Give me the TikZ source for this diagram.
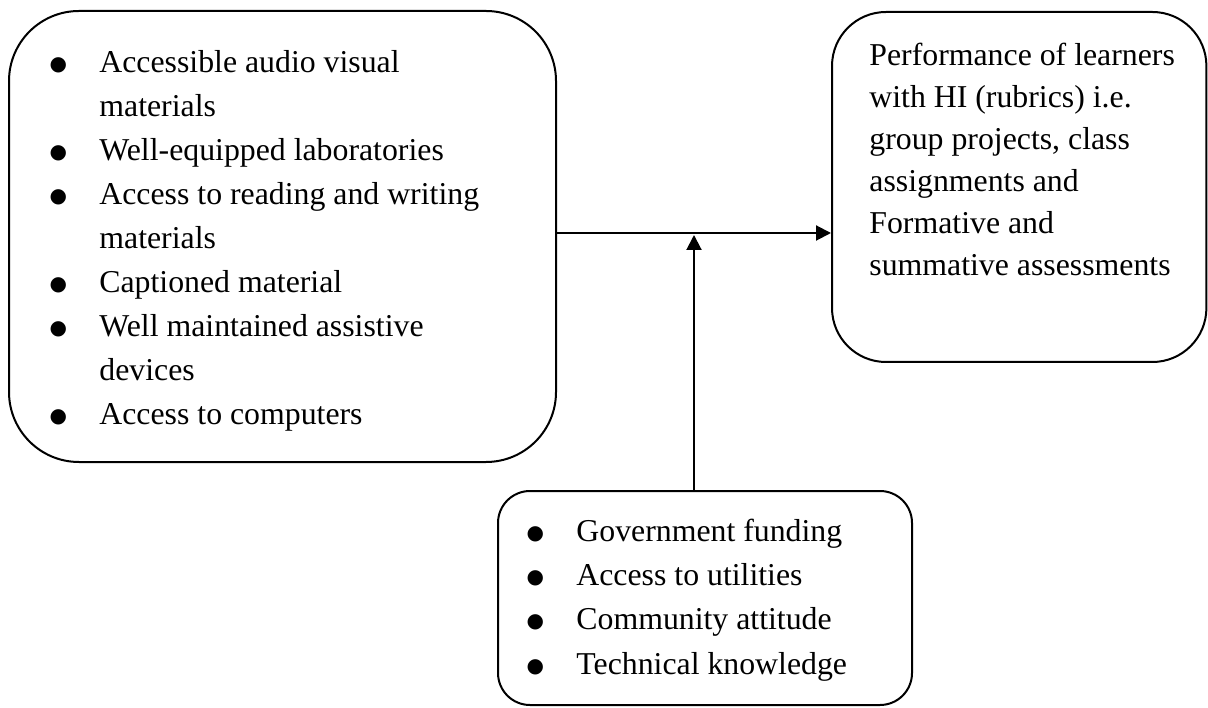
\documentclass[tikz,border=0pt]{standalone}
\usepackage{fontspec}
\setmainfont{Liberation Serif}
\newfontfamily\dotfont{DejaVu Sans}
\usetikzlibrary{arrows.meta,calc,positioning}
\newcommand{\blt}{\makebox[24.9pt][l]{\raisebox{1pt}{\dotfont\fontsize{10pt}{12pt}\selectfont ●}}}

\begin{document}
\begin{tikzpicture}
[x=1pt,y=1pt,
 frame/.style={draw,line width=1pt,rectangle,inner sep=0pt},
 listtext/.style={inner sep=0pt,anchor=base west,font=\fontsize{15.9pt}{22pt}\selectfont},
 link/.style={line width=1pt,-{Triangle[length=7.5pt,width=7.5pt]}}]
\useasboundingbox (0,0) rectangle (604,353.5);
\node[frame,rounded corners=35pt,minimum width=273.5pt,minimum height=225.5pt] (resources) at (141.25,235.25) {};
\node[frame,rounded corners=27pt,minimum width=187.2pt,minimum height=175pt] (performance) at (509.6,260) {};
\node[frame,rounded corners=16pt,minimum width=207pt,minimum height=107pt] (factors) at (352.5,54.5) {};
\node[listtext] (resources-list) at ($(resources.north west)+(20.6pt,-31.5pt)$) {%
\begin{tabular}[t]{@{}l@{}l@{}}
\blt & Accessible audio visual\\
     & materials\\
\blt & Well-equipped laboratories\\
\blt & Access to reading and writing\\
     & materials\\
\blt & Captioned material\\
\blt & Well maintained assistive\\
     & devices\\
\blt & Access to computers
\end{tabular}};
\node[listtext,font=\fontsize{15.9pt}{21pt}\selectfont] (performance-text) at ($(performance.north west)+(19pt,-27.5pt)$) {%
\begin{tabular}[t]{@{}l@{}}
Performance of learners\\
with HI (rubrics) i.e.\\
group projects, class\\
assignments and\\
Formative and\\
summative assessments
\end{tabular}};
\node[listtext,font=\fontsize{15.9pt}{22.2pt}\selectfont] (factors-list) at ($(factors.north west)+(14.6pt,-25.5pt)$) {%
\begin{tabular}[t]{@{}l@{}l@{}}
\blt & Government funding\\
\blt & Access to utilities\\
\blt & Community attitude\\
\blt & Technical knowledge
\end{tabular}};
\coordinate (meet) at (347,237);
\draw[link] (resources.east |- meet) -- (meet -| performance.west);
\draw[link,shorten >=1pt] (factors.north -| meet) -- (meet);
\end{tikzpicture}
\end{document}
